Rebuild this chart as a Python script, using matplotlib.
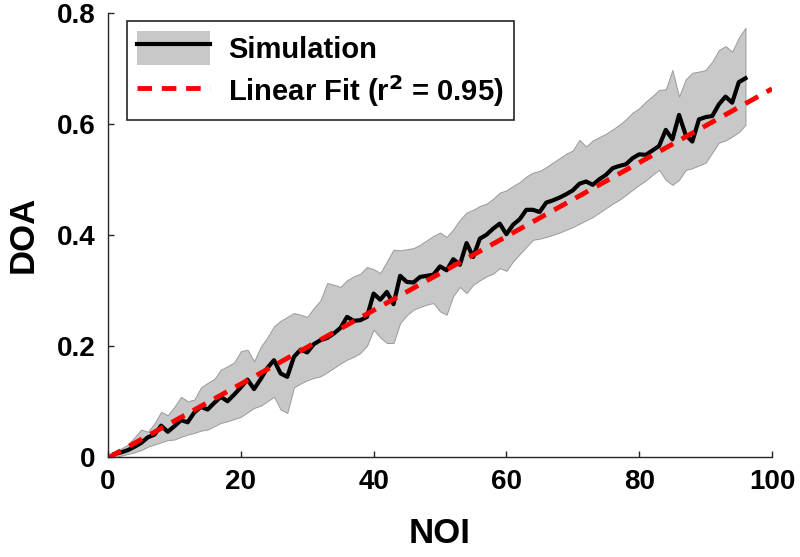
import matplotlib
matplotlib.use("Agg")
import matplotlib.pyplot as plt
from matplotlib.patches import Patch
from matplotlib.lines import Line2D

plt.rcParams["font.family"] = ["Liberation Sans", "DejaVu Sans"]
plt.rcParams["font.weight"] = "bold"

# simulation: mean DOA per NOI, with band limits
noi = list(range(1, 97))
doa_mean = [
    0.005, 0.008, 0.012, 0.018, 0.025, 0.035, 0.040, 0.056, 0.045, 0.055,
    0.066, 0.062, 0.080, 0.090, 0.085, 0.097, 0.108, 0.100, 0.112, 0.125,
    0.139, 0.122, 0.140, 0.160, 0.174, 0.150, 0.144, 0.180, 0.193, 0.188,
    0.203, 0.210, 0.214, 0.222, 0.232, 0.252, 0.245, 0.246, 0.252, 0.294,
    0.283, 0.297, 0.275, 0.326, 0.315, 0.314, 0.324, 0.326, 0.328, 0.343,
    0.336, 0.356, 0.346, 0.385, 0.360, 0.393, 0.400, 0.411, 0.420, 0.401,
    0.418, 0.428, 0.445, 0.445, 0.441, 0.458, 0.462, 0.467, 0.473, 0.480,
    0.492, 0.496, 0.490, 0.500, 0.508, 0.520, 0.524, 0.527, 0.538, 0.545,
    0.544, 0.552, 0.560, 0.589, 0.572, 0.616, 0.580, 0.568, 0.608, 0.612,
    0.614, 0.635, 0.649, 0.638, 0.675, 0.682,
]
doa_upper = [
    0.010, 0.015, 0.022, 0.035, 0.049, 0.045, 0.060, 0.081, 0.075, 0.090,
    0.108, 0.100, 0.103, 0.125, 0.133, 0.140, 0.157, 0.163, 0.170, 0.190,
    0.193, 0.172, 0.198, 0.215, 0.235, 0.245, 0.252, 0.259, 0.256, 0.252,
    0.268, 0.282, 0.313, 0.310, 0.306, 0.318, 0.325, 0.330, 0.342, 0.338,
    0.331, 0.352, 0.373, 0.372, 0.374, 0.376, 0.382, 0.390, 0.398, 0.404,
    0.396, 0.410, 0.427, 0.440, 0.445, 0.452, 0.456, 0.465, 0.476, 0.480,
    0.488, 0.495, 0.505, 0.512, 0.515, 0.522, 0.530, 0.538, 0.546, 0.552,
    0.571, 0.559, 0.570, 0.576, 0.582, 0.590, 0.598, 0.608, 0.620, 0.628,
    0.640, 0.650, 0.661, 0.662, 0.697, 0.649, 0.680, 0.692, 0.694, 0.697,
    0.712, 0.733, 0.740, 0.730, 0.755, 0.773,
]
doa_lower = [
    0.000, 0.002, 0.005, 0.008, 0.012, 0.018, 0.022, 0.026, 0.030, 0.031,
    0.036, 0.040, 0.043, 0.047, 0.049, 0.055, 0.061, 0.064, 0.068, 0.072,
    0.080, 0.088, 0.092, 0.100, 0.108, 0.085, 0.079, 0.125, 0.132, 0.138,
    0.142, 0.145, 0.152, 0.160, 0.168, 0.175, 0.180, 0.187, 0.200, 0.229,
    0.215, 0.205, 0.205, 0.241, 0.255, 0.265, 0.270, 0.274, 0.277, 0.262,
    0.256, 0.290, 0.306, 0.295, 0.310, 0.318, 0.325, 0.330, 0.340, 0.335,
    0.352, 0.365, 0.378, 0.391, 0.393, 0.396, 0.400, 0.404, 0.409, 0.414,
    0.420, 0.426, 0.432, 0.440, 0.448, 0.456, 0.463, 0.472, 0.481, 0.490,
    0.498, 0.508, 0.517, 0.499, 0.490, 0.499, 0.517, 0.520, 0.525, 0.530,
    0.548, 0.566, 0.570, 0.577, 0.585, 0.598,
]

# linear fit
fit_x = [0, 100]
fit_y = [-0.002, 0.663]
fit_r2 = 0.95

fig = plt.figure(figsize=(8, 5.57), dpi=100)
ax = fig.add_axes([0.135, 0.18, 0.83, 0.797])

ax.fill_between(noi, doa_lower, doa_upper, facecolor="#c8c8c8",
                edgecolor="#9a9a9a", linewidth=0.7)
ax.plot(noi, doa_mean, color="black", linewidth=3)
ax.plot(fit_x, fit_y, color="red", linestyle=(0, (3, 2)), linewidth=3.5)

ax.set_xlim(0, 100)
ax.set_ylim(0, 0.8)
ax.set_xticks([0, 20, 40, 60, 80, 100])
ax.set_yticks([0, 0.2, 0.4, 0.6, 0.8])
ax.set_yticklabels(["0", "0.2", "0.4", "0.6", "0.8"])
ax.tick_params(direction="in", length=4, width=1, labelsize=20, pad=9,
               colors="#262626", labelcolor="black")
for lbl in ax.get_xticklabels() + ax.get_yticklabels():
    lbl.set_fontweight("bold")

for side in ["top", "right"]:
    ax.spines[side].set_visible(False)
for side in ["left", "bottom"]:
    ax.spines[side].set_color("#262626")
    ax.spines[side].set_linewidth(1)

ax.set_xlabel("NOI", fontsize=25, fontweight="bold", labelpad=16)
ax.set_ylabel("DOA", fontsize=25, fontweight="bold", labelpad=12)

sim_handle = (Patch(facecolor="#c8c8c8", edgecolor="none"),
              Line2D([], [], color="black", linewidth=3))
fit_handle = Line2D([], [], color="red", linestyle=(0, (3, 2)), linewidth=3.5)
leg = ax.legend([sim_handle, fit_handle],
                ["Simulation", f"Linear Fit (r$^{{\\mathbf{{2}}}}$ = {fit_r2:.2f})"],
                loc="upper left", bbox_to_anchor=(0.02, 0.995),
                fancybox=False, framealpha=1, edgecolor="#262626",
                handlelength=2.5, handleheight=1.4, handletextpad=0.6,
                borderpad=0.35, borderaxespad=0.2,
                labelspacing=0.3, prop={"weight": "bold", "size": 21})
leg.get_frame().set_linewidth(1.2)

fig.savefig("out.png", dpi=100)
